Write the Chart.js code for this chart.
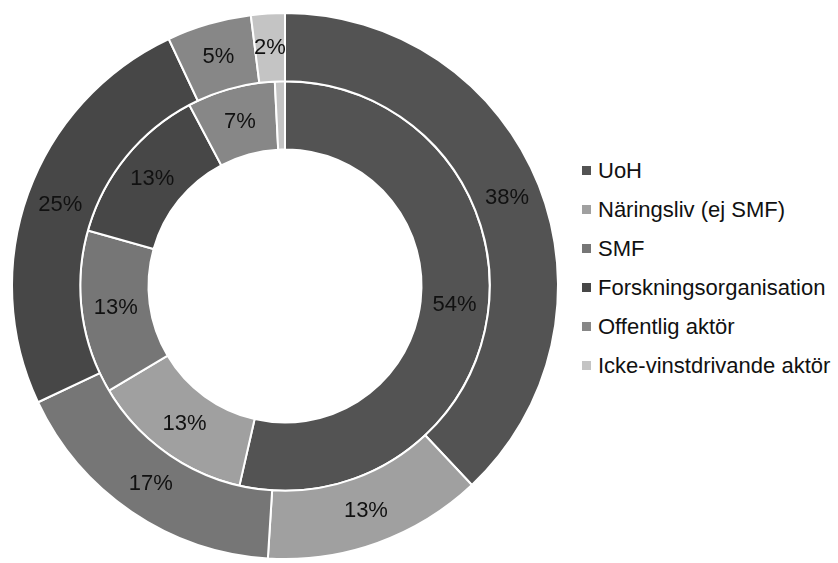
<!DOCTYPE html>
<html>
<head>
<meta charset="utf-8">
<script src="https://cdn.jsdelivr.net/npm/chart.js@4/dist/chart.umd.min.js"></script>
<style>
  html, body { margin: 0; padding: 0; background: #fff; }
  #wrap { position: relative; width: 838px; height: 563px; font-family: "Liberation Sans", Arial, sans-serif; }
  #chartBox { position: absolute; left: 0; top: 0; width: 570px; height: 563px; }
  #legend { position: absolute; left: 582px; top: 151px; margin: 0; padding: 0; list-style: none; }
  #legend li { height: 39px; line-height: 39px; font-size: 22px; color: #111; white-space: nowrap; }
  #legend span { display: inline-block; width: 9px; height: 9px; margin-right: 7px; vertical-align: 3px; }
</style>
</head>
<body>
<div id="wrap">
  <div id="chartBox"><canvas id="donut"></canvas></div>
  <ul id="legend"></ul>
</div>
<script>
// Kategorier och andelar (%) - yttre ring och inre ring
const categories = ['UoH', 'Näringsliv (ej SMF)', 'SMF', 'Forskningsorganisation', 'Offentlig aktör', 'Icke-vinstdrivande aktör'];
const outerValues = [38, 13, 17, 25, 5, 2];
const innerValues = [54, 13, 13, 13, 7, 0.8];
const colors = ['#535353', '#a0a0a0', '#767676', '#474747', '#878787', '#c4c4c4'];

// procentetiketter i segmenten
const sliceLabels = {
  id: 'sliceLabels',
  afterDatasetsDraw(chart) {
    const { ctx } = chart;
    ctx.save();
    ctx.font = '22px "Liberation Sans", Arial, sans-serif';
    ctx.fillStyle = '#111';
    ctx.textAlign = 'center';
    ctx.textBaseline = 'middle';
    chart.data.datasets.forEach((ds, di) => {
      const meta = chart.getDatasetMeta(di);
      meta.data.forEach((arc, i) => {
        const v = ds.data[i];
        if (v < 1.5) return;
        const p = arc.tooltipPosition();
        ctx.fillText(Math.round(v) + '%', p.x, p.y);
      });
    });
    ctx.restore();
  }
};

new Chart(document.getElementById('donut'), {
  type: 'doughnut',
  data: {
    labels: categories,
    datasets: [
      { data: outerValues, backgroundColor: colors, borderColor: '#fff', borderWidth: 2 },
      { data: innerValues, backgroundColor: colors, borderColor: '#fff', borderWidth: 2 },
    ],
  },
  options: {
    responsive: true,
    maintainAspectRatio: false,
    animation: false,
    events: [],
    cutout: '50%',
    layout: { padding: { top: 12, bottom: 3, left: 0, right: 0 } },
    plugins: {
      legend: { display: false },
      tooltip: { enabled: false },
    },
  },
  plugins: [sliceLabels],
});

// legend
const legendEl = document.getElementById('legend');
categories.forEach((c, i) => {
  const li = document.createElement('li');
  const sw = document.createElement('span');
  sw.style.background = colors[i];
  li.appendChild(sw);
  li.appendChild(document.createTextNode(c));
  legendEl.appendChild(li);
});
</script>
</body>
</html>
